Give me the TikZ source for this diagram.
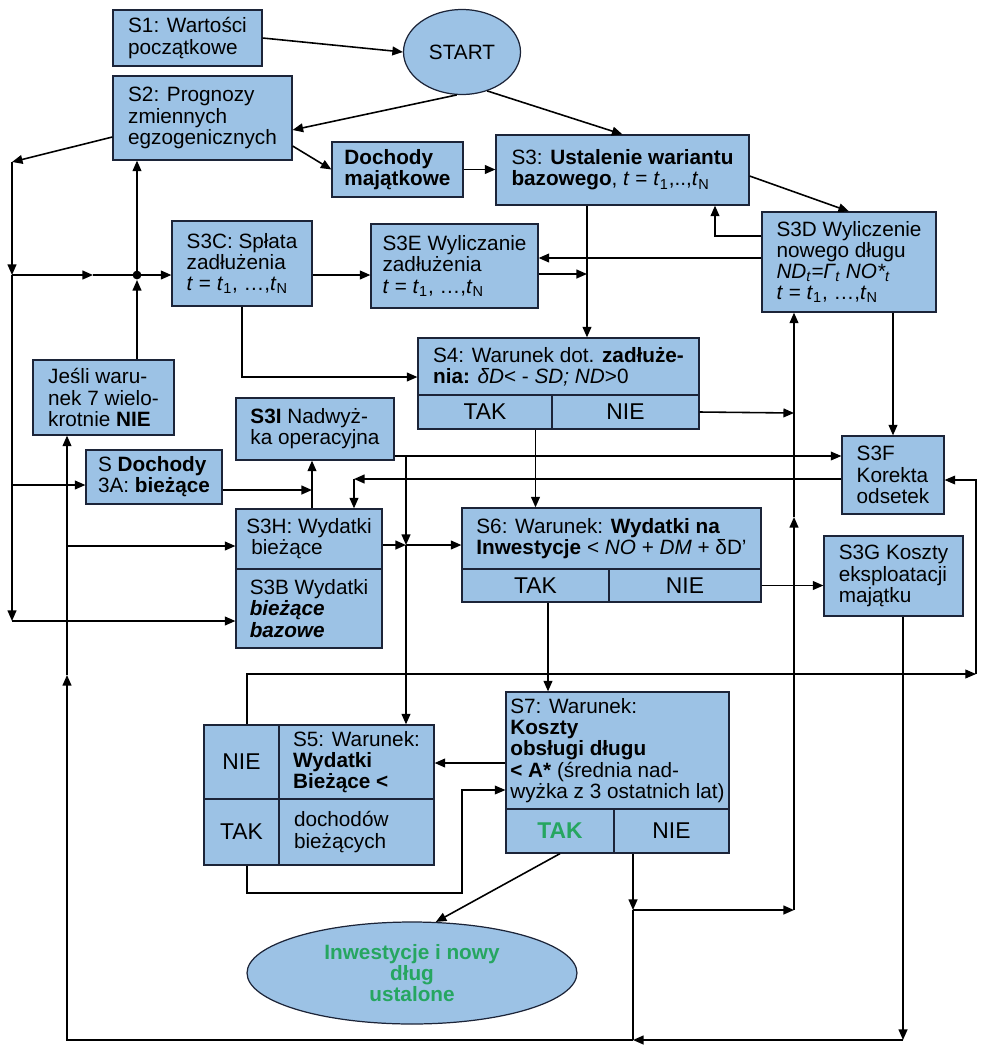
\documentclass[tikz,border=0pt]{standalone}
\usepackage{fontspec}
\setmainfont{Liberation Sans}
\usetikzlibrary{arrows.meta,shapes.geometric}
\definecolor{boxblue}{RGB}{156,194,229}
\definecolor{okgreen}{RGB}{38,166,96}
\definecolor{edge}{RGB}{28,36,56}

\begin{document}
\begin{tikzpicture}[x=0.02cm, y=-0.02cm, >={Triangle[length=6pt,width=5pt]}, line width=0.9pt]
    \tikzstyle{box}=[rectangle, draw=edge, line width=0.7pt, fill=boxblue, align=left, inner sep=2pt, font=\fontsize{11.8}{12.1}\selectfont]
    \tikzstyle{cell}=[box, align=center, font=\fontsize{13}{14}\selectfont]
    \tikzstyle{oval}=[ellipse, draw=edge, line width=0.7pt, fill=boxblue, align=center, inner sep=0pt, font=\fontsize{11.8}{12.1}\selectfont]
    \tikzstyle{thinline}=[line width=0.6pt]

    \useasboundingbox (0,0) rectangle (992,1059);

    % Start
    \node at (187.5,38) [box, minimum width=2.98cm, minimum height=1.12cm] (s1) {S1: Wartości\\początkowe};
    \node at (462,52) [oval, minimum width=2.34cm, minimum height=1.70cm] (start) {START};
    \node at (202.5,118) [box, minimum width=3.58cm, minimum height=1.68cm] (s2) {S2: Prognozy\\zmiennych\\egzogenicznych};
    \node at (397.5,169.5) [box, minimum width=2.62cm, minimum height=1.10cm] (dm) {\textbf{Dochody}\\\textbf{majątkowe}};
    \node at (622.5,170) [box, minimum width=5.06cm, minimum height=1.40cm] (s3) {S3: \textbf{Ustalenie wariantu}\\\textbf{bazowego}, \textit{t} = \textit{t}\textsubscript{1},..,\textit{t}\textsubscript{N}};

    % Debt
    \node at (849,262) [box, minimum width=3.48cm, minimum height=2.00cm] (s3d) {S3D Wyliczenie\\nowego długu\\\textit{ND\textsubscript{t}=Γ\textsubscript{t} NO*\textsubscript{t}}\\\textit{t} = \textit{t}\textsubscript{1}, \dots,\textit{t}\textsubscript{N}};
    \node at (242,263.5) [box, minimum width=2.80cm, minimum height=1.70cm] (s3c) {S3C: Spłata\\zadłużenia\\\textit{t} = \textit{t}\textsubscript{1}, \dots,\textit{t}\textsubscript{N}};
    \node at (454.5,266) [box, minimum width=3.34cm, minimum height=1.68cm] (s3e) {S3E Wyliczanie\\zadłużenia\\\textit{t} = \textit{t}\textsubscript{1}, \dots,\textit{t}\textsubscript{N}};
    \node at (558.5,366.5) [box, minimum width=5.62cm, minimum height=1.14cm] (s4) {S4: Warunek dot. \textbf{zadłuże-}\\\textbf{nia:} \textit{δD}< - \textit{SD; ND}>0};
    \node at (485,412) [cell, minimum width=2.68cm, minimum height=0.68cm] (s4tak) {TAK};
    \node at (625.5,412) [cell, minimum width=2.94cm, minimum height=0.68cm] (s4nie) {NIE};

    % Current budget
    \node at (103.5,397.5) [box, minimum width=2.82cm, minimum height=1.50cm] (jesli) {Jeśli waru-\\nek 7 wielo-\\krotnie \textbf{NIE}};
    \node at (315,429) [box, minimum width=3.16cm, minimum height=1.24cm] (s3i) {\textbf{S3I} Nadwyż-\\ka operacyjna};
    \node at (154,477) [box, minimum width=2.72cm, minimum height=1.08cm] (s3a) {S \textbf{Dochody}\\3A: \textbf{bieżące}};
    \node at (309,539) [box, minimum width=2.92cm, minimum height=1.20cm] (s3h) {S3H: Wydatki\\\hspace*{0.1cm}bieżące};
    \node at (309,608.5) [box, minimum width=2.92cm, minimum height=1.58cm] (s3b) {S3B Wydatki\\\textbf{\textit{bieżące}}\\\textbf{\textit{bazowe}}};
    \node at (893,475) [box, minimum width=2.04cm, minimum height=1.56cm] (s3f) {S3F\\Korekta\\odsetek};

    % Investment
    \node at (611.5,538.5) [box, minimum width=5.98cm, minimum height=1.22cm] (s6) {S6: Warunek: \textbf{Wydatki na}\\\textbf{Inwestycje} < \textit{NO} + \textit{DM} + δD’};
    \node at (535.5,585.5) [cell, minimum width=2.94cm, minimum height=0.66cm] (s6tak) {TAK};
    \node at (685,585.5) [cell, minimum width=3.04cm, minimum height=0.66cm] (s6nie) {NIE};
    \node at (893.5,576) [box, minimum width=2.78cm, minimum height=1.60cm] (s3g) {S3G Koszty\\eksploatacji\\majątku};

    % Conditions S5 and S7
    \node at (617.5,750.5) [box, minimum width=4.46cm, minimum height=2.34cm] (s7) {S7: Warunek:\\\textbf{Koszty}\\\textbf{obsługi długu}\\\textbf{< A*} (średnia nad-\\wyżka z 3 ostatnich lat)};
    \node at (560,831) [cell, minimum width=2.16cm, minimum height=0.88cm, text=okgreen, font=\fontsize{13}{14}\selectfont\bfseries] (s7tak) {TAK};
    \node at (671.5,831) [cell, minimum width=2.30cm, minimum height=0.88cm] (s7nie) {NIE};
    \node at (241.5,762) [cell, minimum width=1.50cm, minimum height=1.48cm] (s5nie) {NIE};
    \node at (356.5,762) [box, minimum width=3.10cm, minimum height=1.48cm] (s5top) {S5: Warunek:\\\textbf{Wydatki}\\\textbf{Bieżące <}};
    \node at (241.5,832) [cell, minimum width=1.50cm, minimum height=1.32cm] (s5tak) {TAK};
    \node at (356.5,832) [box, minimum width=3.10cm, minimum height=1.32cm, text width=2.5cm] (s5bot) {dochodów\\bieżących};
    \node at (412,973) [oval, minimum width=6.60cm, minimum height=2.04cm, text=okgreen, font=\fontsize{11.8}{12.1}\selectfont\bfseries] (fin) {Inwestycje i nowy\\dług\\ustalone};

    % Bends
    \coordinate (lt) at (12,162);
    \coordinate (l1) at (12,275);
    \coordinate (l2) at (12,485);
    \coordinate (l3) at (12,621);
    \coordinate (lm) at (93,275);
    \coordinate (jn) at (137,275);
    \coordinate (jb) at (137,280);
    \coordinate (da) at (715,236);
    \coordinate (ec) at (700,258);
    \coordinate (ea) at (587,274);
    \coordinate (ma) at (242,377);
    \coordinate (nd) at (794,413);
    \coordinate (nc) at (794,517);
    \coordinate (nb) at (794,910);
    \coordinate (na) at (633,910);
    \coordinate (ia) at (406,456);
    \coordinate (ib) at (406,545);
    \coordinate (fa) at (354,479);
    \coordinate (ga) at (312,490);
    \coordinate (qa) at (67,675);
    \coordinate (qb) at (67,546);
    \coordinate (bl) at (67,1040);
    \coordinate (bm) at (633,1040);
    \coordinate (br) at (903,1040);
    \coordinate (ta) at (548,650);
    \coordinate (ua) at (480,763);
    \coordinate (ka) at (247,674);
    \coordinate (kb) at (247,893);
    \coordinate (kc) at (462,893);
    \coordinate (kd) at (462,790);
    \coordinate (ra) at (976,674);
    \coordinate (rb) at (976,480);

    % Top
    \draw [->] (s1.east) -- (start.west);
    \draw [->] (start.-97) -- ([yshift=-0.24cm]s2.east);
    \draw [->] (start.-57) -- (s3.north);
    \draw [->] ([yshift=-0.56cm]s2.east) -- (dm.west);
    \draw [->] (dm.east) -- (s3.west |- dm.east);
    \draw [->] ([yshift=-0.12cm]s3.east) -- (s3d.north);
    \draw [->] (s3d.west |- da) -- (da) -- (s3.south -| da);
    \draw [->] (s3d.west |- ec) -- (s3e.east |- ec);
    \draw [->] (s3e.east |- ea) -- (ea);
    \draw [->] (s3.south -| ea) -- (s4.north -| ea);

    % Left side
    \draw [->] ([yshift=-0.38cm]s2.west) -- (lt);
    \draw [->] (lt) -- (l1);
    \draw [->] (l1) -- (l3);
    \draw [->] (l3) -- (s3b.west |- l3);
    \draw [->] (l2) -- (s3a.west |- l2);
    \draw [->] (l1) -- (lm);
    \draw (lm) -- (jn);
    \draw [->] (jn) -- (s3c.west |- jn);
    \fill (jn) circle (2.5pt);
    \draw [->] (jesli.north -| jn) -- (jb);
    \draw [->] (jn) -- (s2.south -| jn);

    % Debt
    \draw [->] (s3c.east |- jn) -- (s3e.west |- jn);
    \draw [->] (s3c.south -| ma) -- (ma) -- (s4.west |- ma);
    \draw [->] (s4nie.east) -- (nd);
    \draw [->] (s3d.south -| s3f.north) -- (s3f.north);
    \draw [->] (s4tak.south -| s6tak.north) -- (s6tak.north |- s6.north);

    % Middle
    \draw [->, thinline] (s3i.east |- ia) -- (s3f.west |- ia);
    \draw [->] (ia) -- (ib);
    \draw [->] (ib) -- (s5top.north -| ib);
    \draw [->] (s3h.east |- ib) -- (ib);
    \draw [->] (ib) -- (s6.west |- ib);
    \draw [->] (s3f.west |- fa) -- (fa);
    \draw [->] (fa) -- (s3h.north -| fa);
    \draw [->] (s3a.east |- ga) -- (ga);
    \draw [->] (s3h.north -| ga) -- (s3i.south -| ga);
    \draw [->] (qb) -- (s3h.west |- qb);

    % Right side and bottom
    \draw [->] (s6nie.east) -- (s3g.west |- s6nie.east);
    \draw [->] (s6tak.south -| ta) -- (s7.north -| ta);
    \draw [->] (s3g.south -| br) -- (br);
    \draw [->] (br) -- (bm);
    \draw [->] (bm) -- (bl) -- (qa);
    \draw [->] (qa) -- (jesli.south -| qa);
    \draw [->] (s7nie.south -| na) -- (na);
    \draw [->] (na) -- (nb);
    \draw (na) -- (bm);
    \draw [->] (nb) -- (nc);
    \draw [->] (nc) -- (s3d.south -| nc);

    % S5 and S7
    \draw [->] (s7tak.south) -- (fin.65);
    \draw [->] (s7.west |- ua) -- (s5top.east |- ua);
    \draw [->, thinline] (s5tak.south -| kb) -- (kb) -- (kc) -- (kd) -- (s7.west |- kd);
    \draw [->, thinline] (s5nie.north -| ka) -- (ka) -- (ra);
    \draw [->, thinline] (ra) -- (rb) -- (s3f.east |- rb);
\end{tikzpicture}
\end{document}
